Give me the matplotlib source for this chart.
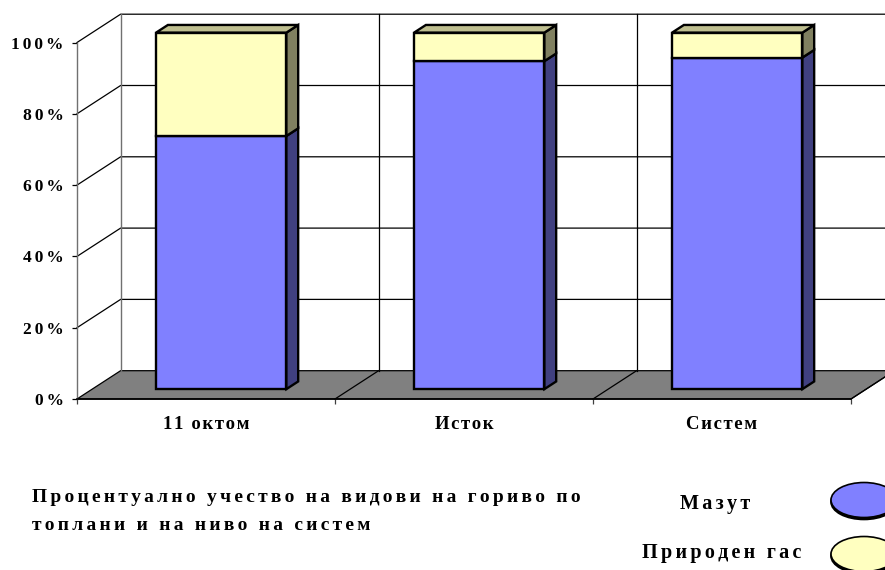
import matplotlib
matplotlib.use('Agg')
import matplotlib.pyplot as plt
from matplotlib.patches import Polygon, Ellipse

categories = ['11 октом', 'Исток', 'Систем']
mazut = [71, 92, 93]
gas = [29, 8, 7]
yticks = [0, 20, 40, 60, 80, 100]
yticklabels = ['0%', '20%', '40%', '60%', '80%', '100%']
title_lines = ['Процентуално учество на видови на гориво по', 'топлани и на ниво на систем']
legend_names = ['Мазут', 'Природен гас']

blue = '#8080FF'
blue_side = '#404080'
yellow = '#FFFFC0'
yellow_side = '#808060'
yellow_top = '#BFBF90'

plt.rcParams['font.family'] = ['Liberation Serif', 'DejaVu Serif']
plt.rcParams['font.weight'] = 'bold'

# one wall depth, in data units (44 px right, 28 px up)
DX = 43.6 / 258
DY = 28.3 / 3.565
BAR_W = 0.505
D0 = 0.35
D1 = 0.62


def sp(s, n=2):
    # the original text is letter spaced
    return ('\u200a' * n).join(s)


def shift(x, y, d):
    return (x + d * DX, y + d * DY)


fig = plt.figure(figsize=(8.85, 5.7), dpi=100)
ax = fig.add_axes([77 / 885, (570 - 399) / 570, 774 / 885, 356.5 / 570])
ax.set_xlim(0, 3)
ax.set_ylim(0, 100)
ax.patch.set_visible(False)

# floor
ax.add_patch(Polygon([shift(0, 0, 0), shift(3, 0, 0), shift(3, 0, 1), shift(0, 0, 1)],
                     fc='#808080', ec='k', lw=0.9, clip_on=False, zorder=1))
for i in range(1, 4):
    ax.plot([i, i + DX], [0, DY], 'k', lw=0.9, clip_on=False, zorder=1.5)

# walls
for v in yticks[1:]:
    ax.plot([0, DX, 3 + DX], [v, v + DY, v + DY], 'k', lw=0.9, clip_on=False, zorder=1)
for i in range(1, 4):
    ax.plot([i + DX, i + DX], [DY, 100 + DY], 'k', lw=0.9, clip_on=False, zorder=1)
ax.plot([DX, DX], [DY, 100 + DY], color='#707070', lw=1.0, clip_on=False, zorder=1)

# stacked bars with depth
for i in range(len(categories)):
    xl = i + 0.5 - BAR_W / 2
    xr = xl + BAR_W
    stack = [(0, mazut[i], blue, blue_side), (mazut[i], mazut[i] + gas[i], yellow, yellow_side)]
    for lo, hi, face, side in stack:
        ax.add_patch(Polygon([shift(xl, lo, D0), shift(xr, lo, D0), shift(xr, hi, D0), shift(xl, hi, D0)],
                             fc=face, ec='k', lw=1.7, joinstyle='miter', clip_on=False, zorder=3))
        ax.add_patch(Polygon([shift(xr, lo, D0), shift(xr, lo, D1), shift(xr, hi, D1), shift(xr, hi, D0)],
                             fc=side, ec='k', lw=1.7, joinstyle='miter', clip_on=False, zorder=3))
    top = mazut[i] + gas[i]
    ax.add_patch(Polygon([shift(xl, top, D0), shift(xr, top, D0), shift(xr, top, D1), shift(xl, top, D1)],
                         fc=yellow_top, ec='k', lw=1.7, joinstyle='miter', clip_on=False, zorder=3))

# axes
for s in ['top', 'right']:
    ax.spines[s].set_visible(False)
ax.spines['left'].set_color('#707070')
ax.spines['left'].set_linewidth(1.0)
ax.spines['bottom'].set_linewidth(1.2)
ax.set_yticks(yticks)
ax.set_yticklabels([sp(t, 2) for t in yticklabels], fontsize=12.5)
ax.set_xticks([0, 1, 2, 3])
ax.set_xticklabels([])
ax.set_xticks([0.5, 1.5, 2.5], minor=True)
ax.set_xticklabels([sp(c, 1) for c in categories], minor=True, fontsize=13.5)
ax.tick_params(axis='x', which='minor', length=0, pad=12)
ax.tick_params(axis='x', which='major', length=3.6, width=0.9, color='#404040')
ax.tick_params(axis='y', length=3.6, width=0.9, pad=6)

# title and legend sit outside the plot, in figure pixels
over = fig.add_axes([0, 0, 1, 1])
over.set_xlim(0, 885)
over.set_ylim(570, 0)
over.axis('off')
over.text(32, 497, sp(title_lines[0]), fontsize=14, va='center')
over.text(32, 525, sp(title_lines[1]), fontsize=14, va='center')
over.text(715, 504, sp(legend_names[0]), fontsize=14.5, ha='center', va='center')
over.text(722, 553, sp(legend_names[1]), fontsize=14.5, ha='center', va='center')
for yc, col in [(500, blue), (554, yellow)]:
    over.add_patch(Ellipse((864, yc + 2), 66, 35, fc='k', ec='k', lw=1.2))
    over.add_patch(Ellipse((864, yc), 66, 35, fc=col, ec='k', lw=1.2))

fig.savefig('out.png', dpi=100)
